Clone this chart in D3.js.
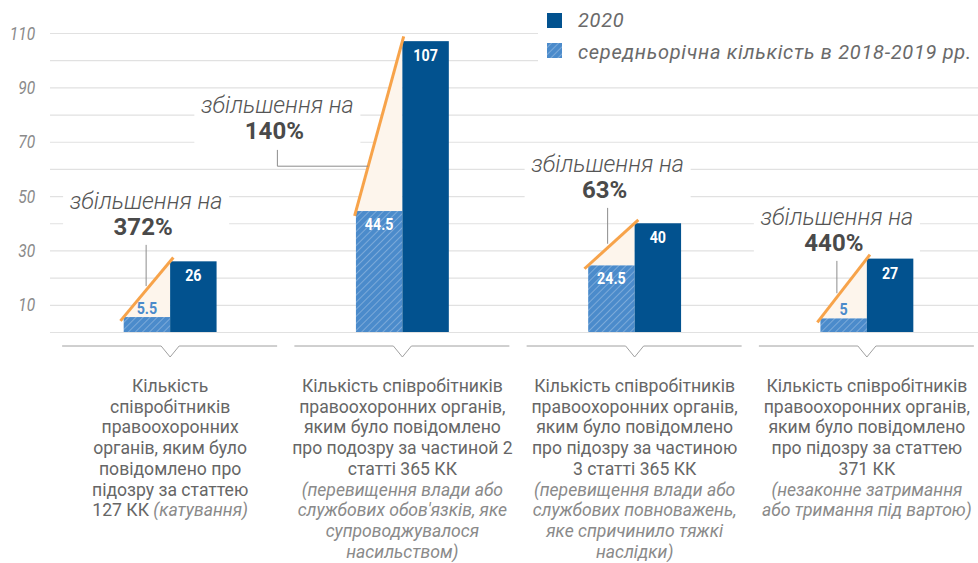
<!DOCTYPE html>
<html>
<head>
<meta charset="utf-8">
<script src="https://cdn.jsdelivr.net/npm/d3@7"></script>
<style>
  body { margin: 0; background: #fff; }
  text { font-family: Roboto, "Noto Sans", sans-serif; }
</style>
</head>
<body>
<div id="chart"></div>
<script>
// data
var categories = ["g1", "g2", "g3", "g4"];
var avg2018_2019 = [5.5, 44.5, 24.5, 5];
var values2020 = [26, 107, 40, 27];
var growthLabels = ["372%", "140%", "63%", "440%"];
var tickValues = [10, 30, 50, 70, 90, 110];
var legendLabels = ["2020", "середньорічна кількість в 2018-2019 рр."];
var categoryLines = [
    ["Кількість", "співробітників", "правоохоронних", "органів, яким було", "повідомлено про", "підозру за статтею", "127 КК (катування)"],
    ["Кількість співробітників", "правоохоронних органів,", "яким було повідомлено", "про подозру за частиной 2", "статті 365 КК", "(перевищення влади або", "службових обов'язків, яке", "супроводжувалося", "насильством)"],
    ["Кількість співробітників", "правоохоронних органів,", "яким було повідомлено", "про підозру за частиною", "3 статті 365 КК", "(перевищення влади або", "службових повноважень,", "яке спричинило тяжкі", "наслідки)"],
    ["Кількість співробітників", "правоохоронних органів,", "яким було повідомлено", "про підозру за статтею", "371 КК", "(незаконне затримання", "або тримання під вартою)"]
];

var width = 978,
    height = 563,
    darkBlue = "#02528f",
    lightBlue = "#4b8bcb",
    orange = "#f7a34a";

// where the callouts sit: x offset from group centre, baseline as a value
var calloutPos = [
    { dx: -24, v: 45.3, elbow: null },
    { dx: -125, v: 80.6, elbow: 61 },
    { dx: -27, v: 58.9, elbow: null },
    { dx: -30, v: 39.4, elbow: null }
];

var svg = d3.select("#chart").append("svg")
    .attr("width", width)
    .attr("height", height);

var defs = svg.append("defs");
var pat = defs.append("pattern")
    .attr("id", "hatch")
    .attr("patternUnits", "userSpaceOnUse")
    .attr("width", 5).attr("height", 5)
    .attr("patternTransform", "rotate(45)");
pat.append("rect").attr("width", 5).attr("height", 5).attr("fill", lightBlue);
pat.append("line").attr("x1", 0).attr("y1", 0).attr("x2", 0).attr("y2", 5)
    .attr("stroke", "#fff").attr("stroke-opacity", 0.45).attr("stroke-width", 1.2);

var y = d3.scaleLinear().domain([0, 110]).range([332, 33]);
var x = d3.scaleBand().domain(categories).range([54, 983]);
var barW = x.bandwidth() * 0.2;
var cx = d => x(d) + x.bandwidth() / 2;

// gridlines
svg.append("g")
    .attr("transform", "translate(50,0)")
    .call(d3.axisLeft(y).tickValues(d3.range(0, 111, 10)).tickSize(-(width - 50)).tickFormat(""))
    .call(g => g.select(".domain").remove())
    .call(g => g.selectAll("line").attr("stroke", "#e1e1e1").attr("stroke-width", 1.2));

// y labels
svg.append("g")
    .attr("transform", "translate(50,0)")
    .call(d3.axisLeft(y).tickValues(tickValues).tickSize(0).tickPadding(18))
    .call(g => g.select(".domain").remove())
    .call(g => g.selectAll("text")
        .attr("fill", "#8a8a8a")
        .style("font-size", "19px")
        .style("font-style", "italic")
        .style("font-family", "Roboto")
        .attr("transform", "scale(0.82,1)"));

// legend
svg.append("rect").attr("x", 538).attr("y", 0).attr("width", 440).attr("height", 68).attr("fill", "#fff");
var legend = svg.append("g");
legend.selectAll("rect.sw")
    .data(legendLabels)
    .join("rect")
    .attr("class", "sw")
    .attr("x", 547)
    .attr("y", (d, i) => 13 + i * 30)
    .attr("width", 15).attr("height", 15)
    .attr("fill", (d, i) => i == 0 ? darkBlue : "url(#hatch)");
legend.selectAll("text")
    .data(legendLabels)
    .join("text")
    .attr("x", 578)
    .attr("y", (d, i) => 27 + i * 32)
    .attr("fill", "#6a6a6a")
    .style("font-size", "20px")
    .style("font-style", "italic")
    .style("letter-spacing", "0.7px")
    .text(d => d);

var rows = categories.map((c, i) => ({ c: c, avg: avg2018_2019[i], v: values2020[i], pct: growthLabels[i], pos: calloutPos[i], lines: categoryLines[i] }));

// callout boxes
rows.forEach(function(r) {
    var tx = cx(r.c) + r.pos.dx, by = y(r.pos.v);
    svg.append("rect")
        .attr("x", tx - 83).attr("y", by - 20)
        .attr("width", 166).attr("height", 55)
        .attr("fill", "#fff");
});

// triangles between the bars
var g = svg.append("g");
rows.forEach(function(r) {
    var c = cx(r.c), x0 = c - barW, y0 = y(r.avg), y1 = y(r.v);
    g.append("path")
        .attr("d", `M${x0},${y0}L${c},${y1}L${c},${y0}Z`)
        .attr("fill", "#fdf5ec");
});

// bars
g.selectAll("rect.avg")
    .data(rows)
    .join("rect")
    .attr("class", "avg")
    .attr("x", d => cx(d.c) - barW)
    .attr("y", d => y(d.avg))
    .attr("width", barW)
    .attr("height", d => y(0) - y(d.avg))
    .attr("fill", "url(#hatch)");

g.selectAll("rect.cur")
    .data(rows)
    .join("rect")
    .attr("class", "cur")
    .attr("x", d => cx(d.c))
    .attr("y", d => y(d.v))
    .attr("width", barW)
    .attr("height", d => y(0) - y(d.v))
    .attr("fill", darkBlue);

// orange lines, a bit longer than the corners
rows.forEach(function(r) {
    var c = cx(r.c), x0 = c - barW, y0 = y(r.avg), y1 = y(r.v);
    var dx = c - x0, dy = y1 - y0, len = Math.sqrt(dx * dx + dy * dy), e = 5;
    g.append("line")
        .attr("x1", x0 - dx / len * e).attr("y1", y0 - dy / len * e)
        .attr("x2", c + dx / len * e).attr("y2", y1 + dy / len * e)
        .attr("stroke", orange).attr("stroke-width", 3);
    r.lineY = xx => y0 + (xx - x0) * dy / dx;
    r.lineX = yy => x0 + (yy - y0) * dx / dy;
});

// pointers
rows.forEach(function(r) {
    var tx = cx(r.c) + r.pos.dx, by = y(r.pos.v);
    var p;
    if (r.pos.elbow == null) {
        p = `M${tx},${by + 36}V${r.lineY(tx) - 4}`;
    } else {
        var ey = y(r.pos.elbow);
        p = `M${tx},${by + 37}V${ey}H${r.lineX(ey)}`;
    }
    svg.append("path").attr("d", p).attr("fill", "none").attr("stroke", "#8c8c8c").attr("stroke-width", 1);
});

// callout texts
rows.forEach(function(r) {
    var tx = cx(r.c) + r.pos.dx, by = y(r.pos.v);
    svg.append("text")
        .attr("x", tx).attr("y", by)
        .attr("text-anchor", "middle")
        .attr("fill", "#555")
        .style("font-size", "23.5px")
        .style("font-style", "italic")
        .style("font-weight", 300)
        .text("збільшення на");
    svg.append("text")
        .attr("x", tx - 3).attr("y", by + 26)
        .attr("text-anchor", "middle")
        .attr("fill", "#4a4a4a")
        .style("font-size", "24px")
        .style("font-weight", 700)
        .text(r.pct);
});

// value labels
function valueLabel(xx, yy, txt, fill) {
    svg.append("text")
        .attr("transform", `translate(${xx},${yy}) scale(0.84,1)`)
        .attr("text-anchor", "middle")
        .attr("fill", fill)
        .style("font-size", "17px")
        .style("font-weight", 700)
        .text(txt);
}
rows.forEach(function(r) {
    var c = cx(r.c);
    valueLabel(c + barW / 2, y(r.v) + 20, r.v, "#fff");
    if (y(0) - y(r.avg) > 25) valueLabel(c - barW / 2, y(r.avg) + 19, r.avg, "#fff");
    else valueLabel(c - barW / 2, y(r.avg) - 3, r.avg, lightBlue);
});

// category axis with notches
svg.append("g").selectAll("path")
    .data(rows)
    .join("path")
    .attr("d", d => { var c = cx(d.c); return `M${c - 108},346H${c - 9}L${c},357L${c + 9},346H${c + 107}`; })
    .attr("fill", "none")
    .attr("stroke", "#a0a0a0")
    .attr("stroke-width", 1);

// category labels; text in brackets goes italic
rows.forEach(function(r) {
    var t = svg.append("text")
        .attr("text-anchor", "middle")
        .style("font-size", "17.6px");
    var italic = false;
    r.lines.forEach(function(line, i) {
        var parts = [];
        var k = line.indexOf("(");
        if (k > 0) { parts.push([line.slice(0, k), italic]); parts.push([line.slice(k), true]); }
        else { if (k == 0) italic = true; parts.push([line, italic]); }
        parts.forEach(function(p, j) {
            var ts = t.append("tspan")
                .attr("fill", p[1] ? "#8a8a8a" : "#666")
                .style("font-style", p[1] ? "italic" : "normal")
                .text(p[0]);
            if (j == 0) ts.attr("x", cx(r.c)).attr("y", 392 + i * 20.7);
            if (p[1] && p[0].indexOf("(") >= 0) italic = true;
        });
        if (line.indexOf(")") >= 0) italic = false;
    });
});
</script>
</body>
</html>
